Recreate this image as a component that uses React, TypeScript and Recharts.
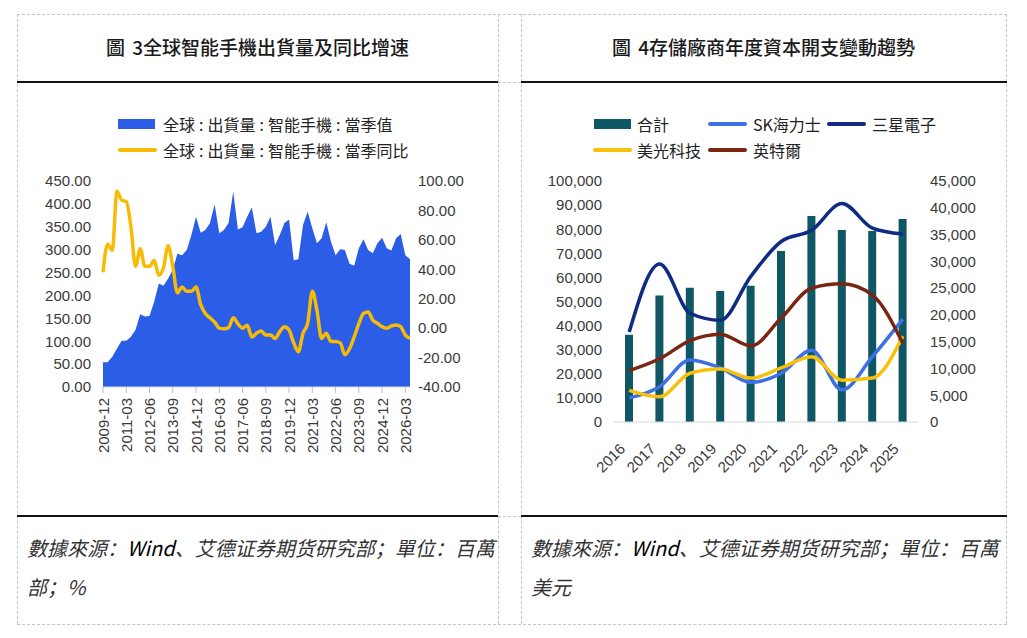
import React from "react";
import { ComposedChart, Area, Line, Bar, XAxis, YAxis } from "recharts";

// Figure 3: global smartphone shipments (quarterly) and YoY growth
const quarters = [
  "2009-12",
  "2010-03", "2010-06", "2010-09", "2010-12",
  "2011-03", "2011-06", "2011-09", "2011-12",
  "2012-03", "2012-06", "2012-09", "2012-12",
  "2013-03", "2013-06", "2013-09", "2013-12",
  "2014-03", "2014-06", "2014-09", "2014-12",
  "2015-03", "2015-06", "2015-09", "2015-12",
  "2016-03", "2016-06", "2016-09", "2016-12",
  "2017-03", "2017-06", "2017-09", "2017-12",
  "2018-03", "2018-06", "2018-09", "2018-12",
  "2019-03", "2019-06", "2019-09", "2019-12",
  "2020-03", "2020-06", "2020-09", "2020-12",
  "2021-03", "2021-06", "2021-09", "2021-12",
  "2022-03", "2022-06", "2022-09", "2022-12",
  "2023-03", "2023-06", "2023-09", "2023-12",
  "2024-03", "2024-06", "2024-09", "2024-12",
  "2025-03", "2025-06", "2025-09", "2025-12",
  "2026-03", "2026-06",
];

const shipments = [
  54,
  54, 66, 84, 101,
  101, 110, 125, 159,
  154, 155, 186, 226,
  221, 237, 256, 291,
  288, 299, 332, 372,
  337, 343, 358, 399,
  336, 343, 358, 427,
  344, 349, 372, 392,
  336, 339, 350, 372,
  310, 332, 358, 366,
  277, 279, 354, 383,
  347, 314, 325, 360,
  318, 288, 301, 299,
  269, 265, 303, 323,
  299, 292, 314, 326,
  303, 298, 325, 334,
  288, 279,
];

const shipmentsYoY = [
  38,
  57, 53, 93, 87,
  86, 69, 42, 54,
  42, 42, 46, 36,
  41, 56, 42, 24,
  28, 25, 25, 28,
  16, 10, 7, 4,
  0, -0.4, 0.3, 7,
  3, 0, 2, -6,
  -3.5, -2, -4.7, -4.7,
  -7, -2.4, 1, -1.3,
  -10, -16, -3.5, 3.3,
  25, 12, -7, -3.5,
  -9, -9, -10, -18,
  -14, -6, 3, 10,
  11, 5.5, 3.3, 1,
  0, 1.5, 2.2, 1,
  -4.7, -7,
];

const shipmentTicks = [0, 50, 100, 150, 200, 250, 300, 350, 400, 450];
const yoyTicks = [-40, -20, 0, 20, 40, 60, 80, 100];

// Figure 4: memory makers' annual capex
const years = ["2016", "2017", "2018", "2019", "2020", "2021", "2022", "2023", "2024", "2025"];
const capexTotal = [36200, 52500, 55700, 54400, 56500, 71000, 85500, 79700, 79300, 84200];
const capexHynix = [4500, 6600, 11600, 10100, 7400, 9100, 13400, 6000, 12200, 19200];
const capexSamsung = [16800, 29500, 20300, 19000, 27200, 33700, 35800, 40800, 36200, 35100];
const capexMicron = [5900, 4700, 9100, 9900, 8200, 10100, 12200, 7800, 8200, 16000];
const capexIntel = [9600, 11800, 15200, 16400, 14200, 19400, 25000, 25800, 23700, 14700];

const totalTicks = [0, 10000, 20000, 30000, 40000, 50000, 60000, 70000, 80000, 90000, 100000];
const vendorTicks = [0, 5000, 10000, 15000, 20000, 25000, 30000, 35000, 40000, 45000];

const shipmentData = quarters.map((q, i) => ({
  q,
  value: shipments[i],
  yoy: shipmentsYoY[i],
}));

const capexData = years.map((year, i) => ({
  year,
  total: capexTotal[i],
  hynix: capexHynix[i],
  samsung: capexSamsung[i],
  micron: capexMicron[i],
  intel: capexIntel[i],
}));

const CJK = '"Noto Sans CJK SC", "Noto Sans", sans-serif';
const NUM = '"Liberation Sans", Arial, sans-serif';
const TICK_COLOR = "#3a3a3a";
const DASH = "1px dashed #c4c4c4";

const AREA_BLUE = "#2c5de6";
const GOLD = "#f7bb06";
const TEAL = "#0f5765";
const HYNIX = "#3b70e6";
const SAMSUNG = "#0f2b84";
const MICRON = "#f7c00a";
const INTEL = "#7a2612";

const tickStyle = { fontSize: 15, fill: TICK_COLOR, fontFamily: NUM };

const QuarterTick = (props: any) => {
  const { x, y, payload } = props;
  return (
    <g transform={`translate(${x},${y})`}>
      <text
        transform="rotate(-90)"
        textAnchor="end"
        dominantBaseline="central"
        fontSize={15}
        fill={TICK_COLOR}
        fontFamily={NUM}
      >
        {payload.value}
      </text>
    </g>
  );
};

const YearTick = (props: any) => {
  const { x, y, payload } = props;
  return (
    <g transform={`translate(${x - 7},${y})`}>
      <text
        transform="rotate(-45)"
        textAnchor="end"
        dominantBaseline="central"
        fontSize={15}
        fill={TICK_COLOR}
        fontFamily={NUM}
      >
        {payload.value}
      </text>
    </g>
  );
};

const hline = (left: number, top: number, width: number, style: any) => (
  <div style={{ position: "absolute", left, top, width, height: 0, ...style }} />
);
const vline = (left: number, top: number, height: number) => (
  <div style={{ position: "absolute", left, top, width: 0, height, borderLeft: DASH }} />
);

const Swatch = ({ left, top, color, kind }: any) =>
  kind === "box" ? (
    <div style={{ position: "absolute", left, top: top - 5, width: 37, height: 10, background: color }} />
  ) : (
    <div
      style={{
        position: "absolute",
        left,
        top: top - 2,
        width: 39,
        height: 4,
        borderRadius: 2,
        background: color,
      }}
    />
  );

const LegendText = ({ left, top, children }: any) => (
  <div
    style={{
      position: "absolute",
      left,
      top: top - 11,
      height: 22,
      lineHeight: "22px",
      fontSize: 16,
      color: "#222",
      fontFamily: CJK,
      whiteSpace: "nowrap",
    }}
  >
    {children}
  </div>
);

// the source legend draws its colons with wide side bearings
const Wide = ({ text }: { text: string }) => (
  <>
    {text.split(":").map((part, i) => (
      <React.Fragment key={i}>
        {i > 0 && <span style={{ margin: "0 4px" }}>:</span>}
        {part}
      </React.Fragment>
    ))}
  </>
);

const Title = ({ left, width, children }: any) => (
  <div
    style={{
      position: "absolute",
      left,
      top: 33,
      width,
      textAlign: "center",
      fontSize: 19,
      lineHeight: "28px",
      fontWeight: 500,
      color: "#1a1a1a",
      fontFamily: CJK,
      wordSpacing: 3,
    }}
  >
    {children}
  </div>
);

const Source = ({ left, second }: any) => (
  <div
    style={{
      position: "absolute",
      left,
      top: 528,
      width: 470,
      fontSize: 20,
      lineHeight: "39px",
      fontStyle: "italic",
      color: "#333",
      fontFamily: CJK,
    }}
  >
    數據來源：<span style={{ color: "#000" }}>Wind</span>、艾德证券期货研究部；單位：百萬
    <br />
    {second}
  </div>
);

const ShipmentsChart = () => (
  <ComposedChart
    width={481}
    height={434}
    data={shipmentData}
    margin={{ top: 99, right: 0, bottom: 59, left: 0 }}
  >
    <XAxis
      dataKey="q"
      scale="point"
      interval={4}
      height={70}
      tickSize={6}
      tickMargin={5}
      tickLine={{ stroke: "#bfbfbf" }}
      axisLine={{ stroke: "#d9d9d9" }}
      tick={(p: any) => <QuarterTick {...p} />}
    />
    <YAxis
      yAxisId="left"
      domain={[0, 450]}
      ticks={shipmentTicks}
      interval={0}
      width={86}
      tickSize={0}
      tickMargin={12}
      axisLine={false}
      tickLine={false}
      tick={tickStyle}
      tickFormatter={(v: number) => v.toFixed(2)}
    />
    <YAxis
      yAxisId="right"
      orientation="right"
      domain={[-40, 100]}
      ticks={yoyTicks}
      interval={0}
      width={88}
      tickSize={0}
      tickMargin={8}
      axisLine={false}
      tickLine={false}
      tick={tickStyle}
      tickFormatter={(v: number) => v.toFixed(2)}
    />
    <Area
      yAxisId="left"
      dataKey="value"
      type="linear"
      fill={AREA_BLUE}
      fillOpacity={1}
      stroke="none"
      dot={false}
      activeDot={false}
      isAnimationActive={false}
    />
    <Line
      yAxisId="right"
      dataKey="yoy"
      type="monotone"
      stroke={GOLD}
      strokeWidth={3.5}
      dot={false}
      activeDot={false}
      isAnimationActive={false}
    />
  </ComposedChart>
);

const CapexChart = () => (
  <ComposedChart
    width={485}
    height={434}
    data={capexData}
    margin={{ top: 99, right: 0, bottom: 34, left: 0 }}
  >
    <XAxis
      dataKey="year"
      interval={0}
      height={60}
      tickSize={0}
      tickMargin={24}
      tickLine={false}
      axisLine={{ stroke: "#d9d9d9" }}
      tick={(p: any) => <YearTick {...p} />}
    />
    <YAxis
      yAxisId="left"
      domain={[0, 100000]}
      ticks={totalTicks}
      interval={0}
      width={93}
      tickSize={0}
      tickMargin={12}
      axisLine={false}
      tickLine={false}
      tick={tickStyle}
      tickFormatter={(v: number) => v.toLocaleString("en-US")}
    />
    <YAxis
      yAxisId="right"
      orientation="right"
      domain={[0, 45000]}
      ticks={vendorTicks}
      interval={0}
      width={88}
      tickSize={0}
      tickMargin={12}
      axisLine={false}
      tickLine={false}
      tick={tickStyle}
      tickFormatter={(v: number) => v.toLocaleString("en-US")}
    />
    <Bar yAxisId="left" dataKey="total" fill={TEAL} barSize={8} isAnimationActive={false} />
    <Line yAxisId="right" dataKey="hynix" type="monotone" stroke={HYNIX} strokeWidth={3.5} dot={false} activeDot={false} isAnimationActive={false} />
    <Line yAxisId="right" dataKey="samsung" type="monotone" stroke={SAMSUNG} strokeWidth={3.5} dot={false} activeDot={false} isAnimationActive={false} />
    <Line yAxisId="right" dataKey="micron" type="monotone" stroke={MICRON} strokeWidth={3.5} dot={false} activeDot={false} isAnimationActive={false} />
    <Line yAxisId="right" dataKey="intel" type="monotone" stroke={INTEL} strokeWidth={3.5} dot={false} activeDot={false} isAnimationActive={false} />
  </ComposedChart>
);

export default function App() {
  return (
    <div
      style={{
        position: "absolute",
        left: 0,
        top: 0,
        width: 1027,
        height: 638,
        background: "#fff",
        overflow: "hidden",
      }}
    >
      {/* table grid */}
      {hline(17, 14, 990, { borderTop: DASH })}
      {hline(17, 624, 990, { borderTop: DASH })}
      {hline(498, 82, 23, { borderTop: DASH })}
      {hline(498, 516, 23, { borderTop: DASH })}
      {vline(17, 14, 610)}
      {vline(498, 14, 610)}
      {vline(521, 14, 610)}
      {vline(1006, 14, 610)}
      {hline(17, 81, 481, { borderTop: "2px solid #111" })}
      {hline(521, 81, 486, { borderTop: "2px solid #111" })}
      {hline(17, 515, 481, { borderTop: "2px solid #111" })}
      {hline(521, 515, 486, { borderTop: "2px solid #111" })}

      <Title left={17} width={481}>圖 3全球智能手機出貨量及同比增速</Title>
      <Title left={521} width={485}>圖 4存儲廠商年度資本開支變動趨勢</Title>

      <div style={{ position: "absolute", left: 17, top: 82 }}>
        <ShipmentsChart />
      </div>
      <div style={{ position: "absolute", left: 521, top: 82 }}>
        <CapexChart />
      </div>

      {/* legend, figure 3 */}
      <Swatch left={118} top={123.5} color={AREA_BLUE} kind="box" />
      <LegendText left={163} top={123.5}>
        <Wide text="全球:出貨量:智能手機:當季值" />
      </LegendText>
      <Swatch left={118} top={149.5} color={GOLD} kind="line" />
      <LegendText left={163} top={149.5}>
        <Wide text="全球:出貨量:智能手機:當季同比" />
      </LegendText>

      {/* legend, figure 4 */}
      <Swatch left={594} top={123.5} color={TEAL} kind="box" />
      <LegendText left={637} top={123.5}>合計</LegendText>
      <Swatch left={708} top={123.5} color={HYNIX} kind="line" />
      <LegendText left={753} top={123.5}>SK海力士</LegendText>
      <Swatch left={827} top={123.5} color={SAMSUNG} kind="line" />
      <LegendText left={872} top={123.5}>三星電子</LegendText>
      <Swatch left={593} top={149.5} color={MICRON} kind="line" />
      <LegendText left={637} top={149.5}>美光科技</LegendText>
      <Swatch left={708} top={149.5} color={INTEL} kind="line" />
      <LegendText left={753} top={149.5}>英特爾</LegendText>

      <Source left={27} second="部；%" />
      <Source left={531} second="美元" />
    </div>
  );
}
